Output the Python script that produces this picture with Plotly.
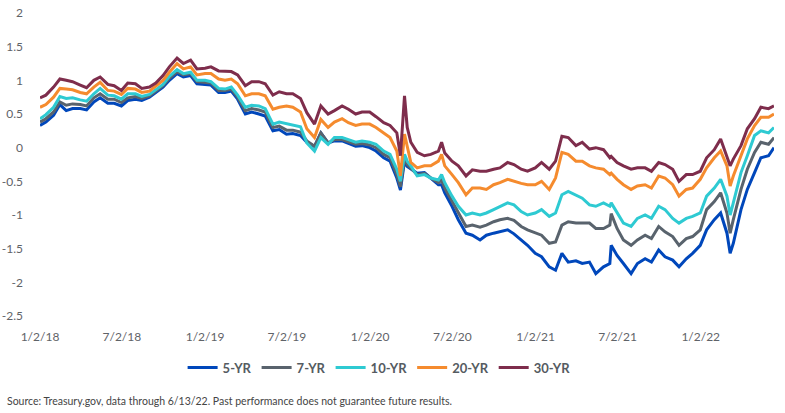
import plotly.graph_objects as go

dates = [
    "2018-01-02", "2018-01-15", "2018-02-01", "2018-02-15", "2018-03-01", "2018-03-15", "2018-04-01", "2018-04-15", "2018-05-01", "2018-05-15",
    "2018-06-01", "2018-06-15", "2018-07-01", "2018-07-15", "2018-08-01", "2018-08-15", "2018-09-01", "2018-09-15", "2018-10-01", "2018-10-15",
    "2018-11-01", "2018-11-15", "2018-12-01", "2018-12-15", "2019-01-02", "2019-01-15", "2019-02-01", "2019-02-15", "2019-03-01", "2019-03-15",
    "2019-04-01", "2019-04-15", "2019-05-01", "2019-05-15", "2019-06-01", "2019-06-15", "2019-07-01", "2019-07-15", "2019-08-01", "2019-08-15",
    "2019-09-01", "2019-09-15", "2019-10-01", "2019-10-15", "2019-11-01", "2019-11-15", "2019-12-01", "2019-12-15", "2020-01-01", "2020-01-15",
    "2020-02-01", "2020-02-15", "2020-03-01", "2020-03-09", "2020-03-18", "2020-03-24", "2020-04-01", "2020-04-15", "2020-05-01", "2020-05-15",
    "2020-06-01", "2020-06-08", "2020-06-15", "2020-07-01", "2020-07-15", "2020-08-01", "2020-08-15", "2020-09-01", "2020-09-15", "2020-10-01",
    "2020-10-15", "2020-11-01", "2020-11-15", "2020-12-01", "2020-12-15", "2021-01-01", "2021-01-15", "2021-02-01", "2021-02-15", "2021-03-01",
    "2021-03-15", "2021-04-01", "2021-04-15", "2021-05-01", "2021-05-15", "2021-06-01", "2021-06-15", "2021-06-18", "2021-07-01", "2021-07-15",
    "2021-08-01", "2021-08-15", "2021-09-01", "2021-09-15", "2021-10-01", "2021-10-15", "2021-11-01", "2021-11-15", "2021-12-01", "2021-12-15",
    "2022-01-01", "2022-01-15", "2022-02-01", "2022-02-15", "2022-03-01", "2022-03-08", "2022-03-15", "2022-04-01", "2022-04-15", "2022-05-01",
    "2022-05-15", "2022-06-01", "2022-06-13",
]

yr5 = [
    0.33, 0.38, 0.48, 0.64, 0.55, 0.58, 0.58, 0.56, 0.68, 0.74,
    0.66, 0.66, 0.62, 0.70, 0.72, 0.70, 0.75, 0.82, 0.90, 1.00,
    1.10, 1.05, 1.07, 0.95, 0.94, 0.93, 0.82, 0.82, 0.84, 0.72,
    0.50, 0.53, 0.50, 0.47, 0.25, 0.27, 0.20, 0.21, 0.18, 0.08,
    0.02, 0.22, 0.07, 0.10, 0.10, 0.06, 0.02, 0.03, 0.00, -0.05,
    -0.15, -0.20, -0.45, -0.63, -0.20, -0.28, -0.32, -0.38, -0.37, -0.45,
    -0.55, -0.55, -0.67, -0.87, -1.07, -1.27, -1.30, -1.37, -1.30, -1.27,
    -1.25, -1.22, -1.28, -1.37, -1.45, -1.57, -1.62, -1.77, -1.82, -1.57,
    -1.70, -1.68, -1.72, -1.70, -1.87, -1.77, -1.72, -1.45, -1.60, -1.72,
    -1.87, -1.72, -1.65, -1.70, -1.52, -1.62, -1.67, -1.77, -1.65, -1.57,
    -1.45, -1.22, -1.07, -0.97, -1.27, -1.57, -1.42, -0.92, -0.62, -0.37,
    -0.15, -0.12, 0.00,
]

yr7 = [
    0.38, 0.43, 0.53, 0.68, 0.63, 0.65, 0.64, 0.62, 0.74, 0.80,
    0.72, 0.72, 0.67, 0.74, 0.76, 0.73, 0.77, 0.84, 0.92, 1.03,
    1.13, 1.08, 1.10, 0.98, 0.97, 0.96, 0.85, 0.85, 0.87, 0.75,
    0.55, 0.58, 0.56, 0.53, 0.30, 0.32, 0.26, 0.26, 0.23, 0.10,
    0.02, 0.22, 0.07, 0.12, 0.12, 0.09, 0.05, 0.06, 0.04, 0.00,
    -0.10, -0.15, -0.40, -0.58, -0.15, -0.25, -0.30, -0.40, -0.38, -0.45,
    -0.52, -0.48, -0.60, -0.80, -0.97, -1.17, -1.15, -1.18, -1.15, -1.10,
    -1.07, -1.05, -1.08, -1.17, -1.22, -1.27, -1.30, -1.42, -1.40, -1.15,
    -1.10, -1.12, -1.12, -1.12, -1.20, -1.20, -1.15, -0.98, -1.20, -1.37,
    -1.45, -1.37, -1.30, -1.35, -1.17, -1.25, -1.32, -1.45, -1.35, -1.32,
    -1.22, -0.92, -0.80, -0.67, -0.97, -1.27, -1.07, -0.62, -0.32, -0.07,
    0.08, 0.05, 0.15,
]

yr10 = [
    0.43, 0.49, 0.60, 0.76, 0.73, 0.74, 0.71, 0.69, 0.80, 0.88,
    0.78, 0.77, 0.72, 0.80, 0.80, 0.76, 0.79, 0.86, 0.94, 1.06,
    1.16, 1.10, 1.12, 1.00, 1.00, 0.98, 0.88, 0.87, 0.90, 0.78,
    0.60, 0.63, 0.62, 0.58, 0.35, 0.38, 0.36, 0.34, 0.31, 0.07,
    -0.05, 0.15, 0.05, 0.15, 0.15, 0.12, 0.08, 0.10, 0.08, 0.05,
    -0.05, -0.10, -0.32, -0.50, -0.10, -0.20, -0.27, -0.42, -0.40, -0.45,
    -0.48, -0.40, -0.52, -0.72, -0.87, -1.00, -0.97, -1.00, -0.97, -0.92,
    -0.87, -0.82, -0.85, -0.95, -1.00, -0.97, -0.92, -1.02, -0.97, -0.70,
    -0.65, -0.70, -0.75, -0.85, -0.87, -0.82, -0.87, -0.82, -0.97, -1.12,
    -1.17, -1.05, -1.00, -1.05, -0.87, -0.92, -1.05, -1.12, -1.05, -1.02,
    -0.97, -0.72, -0.60, -0.47, -0.72, -1.00, -0.82, -0.37, -0.12, 0.18,
    0.25, 0.22, 0.30,
]

yr20 = [
    0.60, 0.64, 0.75, 0.88, 0.87, 0.86, 0.82, 0.80, 0.90, 0.97,
    0.85, 0.84, 0.79, 0.88, 0.87, 0.82, 0.84, 0.91, 1.00, 1.12,
    1.25, 1.17, 1.20, 1.08, 1.10, 1.10, 1.02, 1.00, 1.02, 0.95,
    0.77, 0.80, 0.80, 0.77, 0.57, 0.60, 0.62, 0.60, 0.53, 0.28,
    0.15, 0.42, 0.30, 0.38, 0.43, 0.37, 0.33, 0.35, 0.35, 0.30,
    0.22, 0.15, -0.05, -0.42, 0.20, 0.00, -0.22, -0.30, -0.27, -0.27,
    -0.20, -0.10, -0.27, -0.40, -0.52, -0.70, -0.60, -0.60, -0.62, -0.55,
    -0.52, -0.47, -0.50, -0.53, -0.55, -0.55, -0.50, -0.62, -0.45, -0.07,
    -0.10, -0.20, -0.20, -0.27, -0.30, -0.32, -0.40, -0.38, -0.47, -0.55,
    -0.62, -0.57, -0.55, -0.60, -0.42, -0.45, -0.55, -0.72, -0.62, -0.60,
    -0.47, -0.30, -0.15, -0.05, -0.27, -0.57, -0.42, -0.12, 0.13, 0.33,
    0.45, 0.45, 0.50,
]

yr30 = [
    0.74, 0.78, 0.90, 1.02, 1.00, 0.98, 0.93, 0.89, 1.00, 1.05,
    0.94, 0.92, 0.85, 0.96, 0.95, 0.88, 0.90, 0.96, 1.07, 1.20,
    1.33, 1.25, 1.30, 1.17, 1.18, 1.20, 1.14, 1.13, 1.13, 1.08,
    0.92, 0.98, 0.98, 0.95, 0.78, 0.83, 0.80, 0.80, 0.73, 0.52,
    0.35, 0.62, 0.50, 0.55, 0.62, 0.57, 0.50, 0.53, 0.53, 0.46,
    0.37, 0.33, 0.22, -0.12, 0.77, 0.30, 0.08, -0.07, -0.12, -0.10,
    -0.05, 0.08, -0.08, -0.20, -0.27, -0.42, -0.33, -0.35, -0.35, -0.32,
    -0.30, -0.22, -0.25, -0.32, -0.35, -0.30, -0.22, -0.32, -0.20, 0.17,
    0.15, 0.03, 0.08, -0.02, 0.00, -0.03, -0.15, -0.13, -0.22, -0.27,
    -0.32, -0.30, -0.30, -0.35, -0.22, -0.25, -0.32, -0.50, -0.40, -0.40,
    -0.35, -0.15, -0.03, 0.13, -0.12, -0.27, -0.17, 0.03, 0.28, 0.43,
    0.60, 0.58, 0.62,
]

series_names = ["5-YR", "7-YR", "10-YR", "20-YR", "30-YR"]
series_values = [yr5, yr7, yr10, yr20, yr30]
series_colors = ["#0047BB", "#59636D", "#2ECAD2", "#F58B2E", "#7E2D4C"]

x_tick_vals = ["2018-01-02", "2018-07-02", "2019-01-02", "2019-07-02", "2020-01-02",
               "2020-07-02", "2021-01-02", "2021-07-02", "2022-01-02"]
x_tick_text = ["1/2/18", "7/2/18", "1/2/19", "7/2/19", "1/2/20",
               "7/2/20", "1/2/21", "7/2/21", "1/2/22"]
y_tick_vals = [2, 1.5, 1, 0.5, 0, -0.5, -1, -1.5, -2, -2.5]
y_tick_text = ["2", "1.5", "1", "0.5", "0", "-0.5", "-1", "-1.5", "-2", "-2.5"]

FONT = "Source Sans Pro, Lato, sans-serif"
TICK_COLOR = "#5f6368"

fig = go.Figure()
for name, vals, color in zip(series_names, series_values, series_colors):
    fig.add_trace(go.Scatter(
        x=dates, y=vals, name=name, mode="lines",
        line=dict(color=color, width=3),
    ))

fig.update_layout(
    width=785, height=413,
    margin=dict(l=40, r=11, t=13, b=97),
    paper_bgcolor="white", plot_bgcolor="white",
    font=dict(family=FONT, color=TICK_COLOR, size=12),
    showlegend=True,
    legend=dict(
        orientation="h", x=0.462, xanchor="center", y=-0.17, yanchor="middle",
        font=dict(family=FONT, size=13, color="#555b61", weight="bold"),
        itemwidth=30, tracegroupgap=0,
    ),
    xaxis=dict(
        type="date", range=["2018-01-02", "2022-06-13"],
        tickvals=x_tick_vals, ticktext=x_tick_text,
        showgrid=False, zeroline=False, showline=False,
        ticks="", ticklabelstandoff=12, automargin=False,
        tickfont=dict(family=FONT, size=12, color=TICK_COLOR),
    ),
    yaxis=dict(
        range=[-2.5, 2], tickvals=y_tick_vals, ticktext=y_tick_text,
        showgrid=False, zeroline=False, showline=False,
        ticks="", ticklabelstandoff=16, automargin=False,
        tickfont=dict(family=FONT, size=12, color=TICK_COLOR),
    ),
    annotations=[dict(
        text="Source: Treasury.gov, data through 6/13/22. Past performance does not guarantee future results.",
        xref="paper", yref="paper", x=-0.0477, y=-0.28,
        xanchor="left", yanchor="middle", showarrow=False,
        font=dict(family=FONT, size=10.5, color="#444444"),
    )],
)

fig.write_html("out.html")
